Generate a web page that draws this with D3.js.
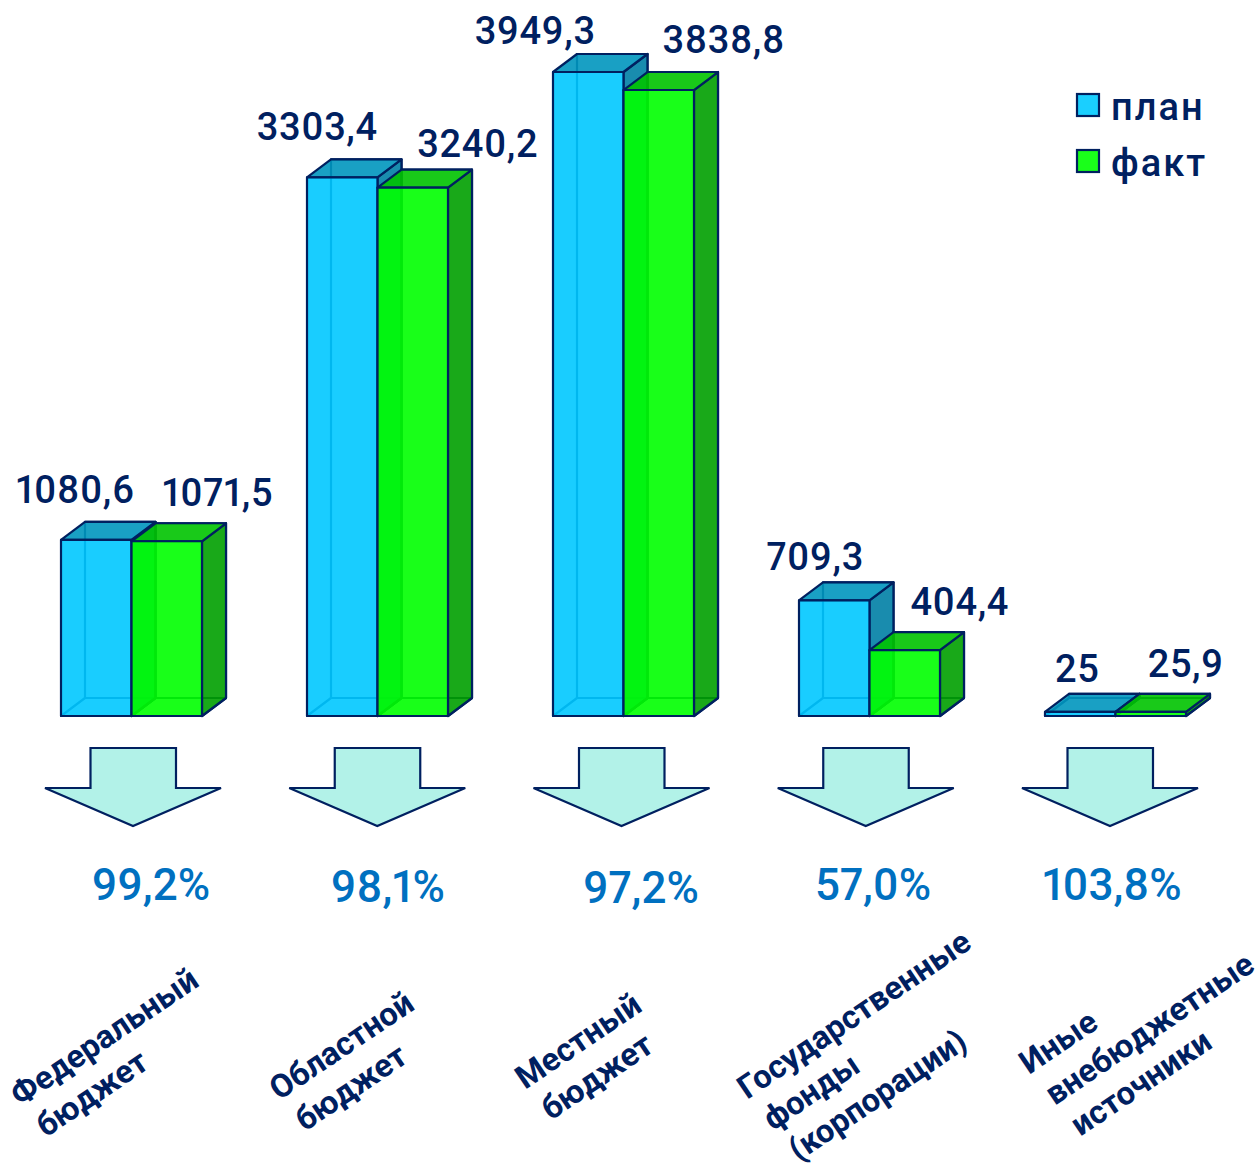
<!DOCTYPE html>
<html>
<head>
<meta charset="utf-8">
<style>
html, body { margin: 0; padding: 0; background: #fff; }
svg { display: block; }
text { font-family: Roboto, sans-serif; font-feature-settings: "pnum"; }
</style>
<script src="https://cdn.jsdelivr.net/npm/d3@7"></script>
</head>
<body>
<svg class="chart"></svg>
<script>
var categories = [
    ["Федеральный", "бюджет"],
    ["Областной", "бюджет"],
    ["Местный", "бюджет"],
    ["Государственные", "фонды", "(корпорации)"],
    ["Иные", "внебюджетные", "источники"]
];
var seriesNames = ["план", "факт"];
var planValues = [1080.6, 3303.4, 3949.3, 709.3, 25];
var factValues = [1071.5, 3240.2, 3838.8, 404.4, 25.9];
var planLabels = ["1080,6", "3303,4", "3949,3", "709,3", "25"];
var factLabels = ["1071,5", "3240,2", "3838,8", "404,4", "25,9"];
var percentLabels = ["99,2%", "98,1%", "97,2%", "57,0%", "103,8%"];

// hand placed offsets, the labels in the picture don't follow a rule
var planLabelShift = [[-21, -37], [-25, -37], [-53, -28], [-19, -30], [-3, -30]];
var factLabelShift = [[51, -35], [65, -31], [65, -37], [55, -35], [35, -35]];
var percentPos = [[151, 900], [388, 902], [641, 903], [873, 900], [1112, 900]];
var categoryPos = [[20, 1107], [279, 1101], [525, 1090], [747, 1100], [1029, 1075]];

var size = {width: 1259, height: 1168};
var depth = {x: 24, y: -18};
var navy = "#002060";
var frontColors = ["rgba(0,200,255,0.9)", "rgba(0,255,0,0.9)"];
var topColors = ["rgba(0,150,190,0.9)", "rgba(0,195,0,0.9)"];
var sideColors = ["rgba(0,128,165,0.9)", "rgba(0,160,0,0.9)"];
var legendColors = ["#1acfff", "#1aff1a"];

var indexes = d3.range(categories.length);

var chart = d3.select(".chart")
        .attr("width", size.width)
        .attr("height", size.height);

var xRange = d3.scaleBand()
        .domain(indexes)
        .range([61, 1186])
        .paddingInner(0.4268)
        .paddingOuter(0);
var xInner = d3.scaleBand()
        .domain([0, 1])
        .range([0, xRange.bandwidth()]);
var yRange = d3.scaleLinear()
        .domain([0, 3949.3])
        .range([716, 72]);
var arrowRange = d3.scalePoint()
        .domain(indexes)
        .range([133, 1110]);

function points(list) {
    return list.map(function (p) { return p[0] + "," + p[1]; }).join(" ");
}

function drawBar(group, x, value, series) {
    var w = xInner.bandwidth();
    var y0 = yRange(0);
    var y1 = Math.min(yRange(value), y0 - 4);
    var dx = depth.x, dy = depth.y;
    var faces = [
        // the hidden walls, they show faintly through the front
        {fill: "none", p: [[x + dx, y1 + dy], [x + w + dx, y1 + dy], [x + w + dx, y0 + dy], [x + dx, y0 + dy]]},
        {fill: "none", p: [[x, y0], [x + dx, y0 + dy], [x + w + dx, y0 + dy], [x + w, y0]]},
        {fill: sideColors[series], p: [[x + w, y1], [x + w + dx, y1 + dy], [x + w + dx, y0 + dy], [x + w, y0]]},
        {fill: topColors[series], p: [[x, y1], [x + dx, y1 + dy], [x + w + dx, y1 + dy], [x + w, y1]]},
        {fill: frontColors[series], p: [[x, y1], [x + w, y1], [x + w, y0], [x, y0]]}
    ];
    group.selectAll(null)
            .data(faces)
            .enter().append("polygon")
            .attr("points", function (f) { return points(f.p); })
            .attr("fill", function (f) { return f.fill; })
            .attr("stroke", navy)
            .attr("stroke-width", 2.2)
            .attr("stroke-linejoin", "round");
}

var bars = chart.append("g").attr("class", "bars");
indexes.forEach(function (i) {
    var g = bars.append("g");
    drawBar(g, xRange(i) + xInner(0), planValues[i], 0);
    drawBar(g, xRange(i) + xInner(1), factValues[i], 1);
});

function addValueLabels(labels, values, series, shift) {
    chart.append("g").selectAll("text")
            .data(indexes)
            .enter().append("text")
            .attr("x", function (i) { return xRange(i) + xInner(series) + xInner.bandwidth() / 2 + shift[i][0]; })
            .attr("y", function (i) { return yRange(values[i]) + shift[i][1]; })
            .attr("text-anchor", "middle")
            .attr("font-size", 38)
            .attr("font-weight", 500)
            .attr("letter-spacing", 0.6)
            .attr("fill", navy)
            .text(function (i) { return labels[i]; });
}
addValueLabels(planLabels, planValues, 0, planLabelShift);
addValueLabels(factLabels, factValues, 1, factLabelShift);

// arrows
var arrow = d3.line()
        .x(function (p) { return p[0]; })
        .y(function (p) { return p[1]; });
chart.append("g").selectAll("path")
        .data(indexes)
        .enter().append("path")
        .attr("d", function (i) {
            var c = arrowRange(i);
            return arrow([[c - 42.5, 748], [c + 43, 748], [c + 43, 788], [c + 88, 788],
                [c, 826], [c - 88, 788], [c - 42.5, 788]]) + "Z";
        })
        .attr("fill", "#b2f2e8")
        .attr("stroke", navy)
        .attr("stroke-width", 2.2);

chart.append("g").selectAll("text")
        .data(indexes)
        .enter().append("text")
        .attr("x", function (i) { return percentPos[i][0]; })
        .attr("y", function (i) { return percentPos[i][1]; })
        .attr("text-anchor", "middle")
        .attr("font-size", 44)
        .attr("font-weight", 500)
        .attr("fill", "#0070c0")
        .text(function (i) { return percentLabels[i]; });

// category names, slanted
var names = chart.append("g").selectAll("text")
        .data(indexes)
        .enter().append("text")
        .attr("transform", function (i) {
            return "translate(" + categoryPos[i][0] + "," + categoryPos[i][1] + ") rotate(-34)";
        })
        .attr("font-size", 32.5)
        .attr("font-weight", 700)
        .attr("fill", navy);
names.selectAll("tspan")
        .data(function (i) { return categories[i]; })
        .enter().append("tspan")
        .attr("x", function (d, k) { return k * 4; })
        .attr("y", function (d, k) { return k * 40; })
        .text(function (d) { return d; });

// legend
var legend = chart.append("g").selectAll("g")
        .data(seriesNames)
        .enter().append("g")
        .attr("transform", function (d, i) { return "translate(1077," + (94 + i * 56) + ")"; });
legend.append("rect")
        .attr("width", 22)
        .attr("height", 22)
        .attr("fill", function (d, i) { return legendColors[i]; })
        .attr("stroke", navy)
        .attr("stroke-width", 2.2);
legend.append("text")
        .attr("x", 34)
        .attr("y", 26)
        .attr("font-size", 38)
        .attr("font-weight", 500)
        .attr("letter-spacing", 2)
        .attr("fill", navy)
        .text(function (d) { return d; });
</script>
</body>
</html>
